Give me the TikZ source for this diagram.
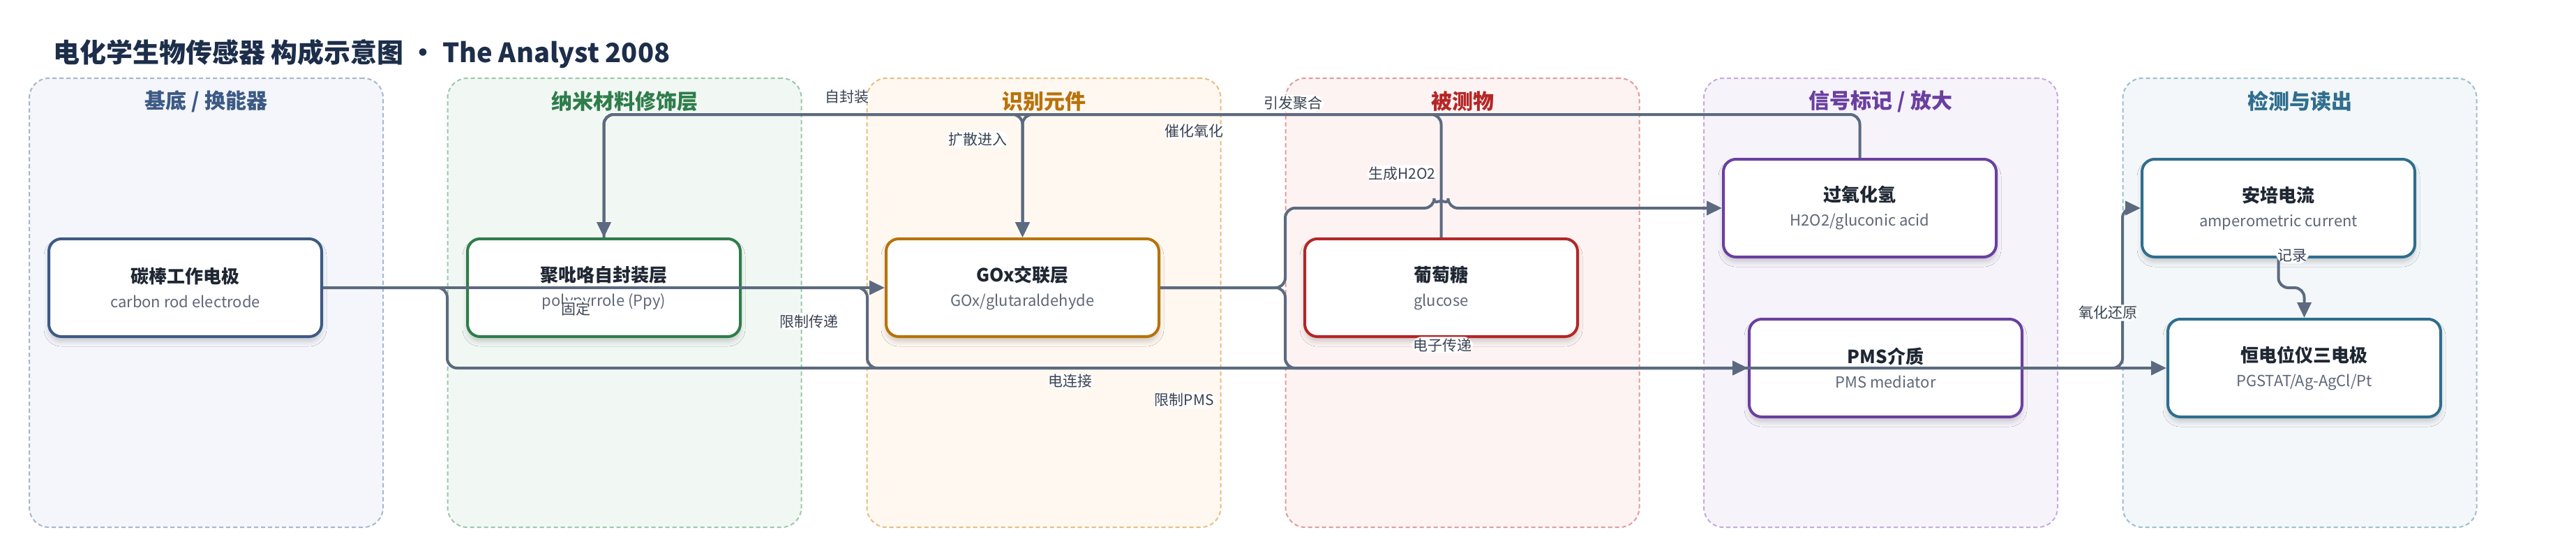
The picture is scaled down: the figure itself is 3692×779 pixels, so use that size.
\documentclass[tikz,border=0pt]{standalone}
\usepackage{fontspec}
\setmainfont{Noto Sans CJK SC}
\usetikzlibrary{positioning, arrows.meta, shadows.blur}

\definecolor{edgeink}{HTML}{5B6A80}
\definecolor{labelink}{HTML}{3A4353}
\definecolor{titleink}{HTML}{1F2733}
\definecolor{subink}{HTML}{5F6878}
\definecolor{headink}{HTML}{1C2E4A}

\definecolor{basefill}{HTML}{F4F6FB}
\definecolor{baseline}{HTML}{A9B6CC}
\definecolor{baseink}{HTML}{3D5A85}
\definecolor{nanofill}{HTML}{F1F8F3}
\definecolor{nanoline}{HTML}{9DC7AB}
\definecolor{nanoink}{HTML}{2E7D4B}
\definecolor{recogfill}{HTML}{FEF8F0}
\definecolor{recogline}{HTML}{E5BF82}
\definecolor{recogink}{HTML}{B8720A}
\definecolor{analytefill}{HTML}{FDF3F3}
\definecolor{analyteline}{HTML}{E49B9B}
\definecolor{analyteink}{HTML}{B52626}
\definecolor{signalfill}{HTML}{F6F3FB}
\definecolor{signalline}{HTML}{C4ABDF}
\definecolor{signalink}{HTML}{6A3FA0}
\definecolor{readfill}{HTML}{F3F7F9}
\definecolor{readline}{HTML}{9DBFCE}
\definecolor{readink}{HTML}{2F6E8E}

\tikzstyle{panel} = [rectangle, rounded corners=28pt, minimum width=507pt, minimum height=643pt, line width=2pt, dash pattern=on 6pt off 4pt]
\tikzstyle{paneltitle} = [font=\fontsize{30pt}{34pt}\selectfont\bfseries]
\tikzstyle{stage} = [rectangle, rounded corners=18pt, minimum width=391pt, minimum height=140pt, fill=white, line width=4pt, align=center, text=subink, font=\fontsize{22pt}{35pt}\selectfont, blur shadow={shadow xshift=0pt, shadow yshift=-7pt, shadow blur radius=7pt, shadow opacity=18}]
\tikzstyle{edgelabel} = [fill=white, inner sep=2pt, text=labelink, font=\fontsize{21pt}{24pt}\selectfont]
\tikzstyle{arrow} = [line width=4pt, draw=edgeink, rounded corners=14pt, -{Triangle[length=22pt, width=20pt]}]

\newcommand{\stagetext}[2]{{\fontsize{26pt}{35pt}\selectfont\bfseries\color{titleink}#1}\\#2}

\begin{document}
\begin{tikzpicture}[x=1pt, y=-1pt, node distance=600pt]

\fill[white] (0,0) rectangle (3692,779);
\useasboundingbox (0,0) rectangle (3692,779);

\node (heading) [anchor=west, inner sep=0pt, text=headink, font=\fontsize{38pt}{44pt}\selectfont\bfseries] at (76,77) {电化学生物传感器 构成示意图 · The Analyst 2008};

%% groups
\node (g-base) [panel, fill=basefill, draw=baseline] at (295.5,433.5) {};
\node (g-nano) [panel, fill=nanofill, draw=nanoline] at (895,433.5) {};
\node (g-recog) [panel, fill=recogfill, draw=recogline] at (1496,433.5) {};
\node (g-analyte) [panel, fill=analytefill, draw=analyteline] at (2096,433.5) {};
\node (g-signal) [panel, fill=signalfill, draw=signalline] at (2695.5,433.5) {};
\node (g-read) [panel, fill=readfill, draw=readline] at (3296,433.5) {};

\node (t-base) [paneltitle, text=baseink] at (295.5,145) {基底 / 换能器};
\node (t-nano) [paneltitle, text=nanoink] at (895,145) {纳米材料修饰层};
\node (t-recog) [paneltitle, text=recogink] at (1496,145) {识别元件};
\node (t-analyte) [paneltitle, text=analyteink] at (2096,145) {被测物};
\node (t-signal) [paneltitle, text=signalink] at (2695.5,145) {信号标记 / 放大};
\node (t-read) [paneltitle, text=readink] at (3296,145) {检测与读出};

%% stages
\node (carbon) [stage, draw=baseink] at (265.5,412) {\stagetext{碳棒工作电极}{carbon rod electrode}};
\node (ppy) [stage, draw=nanoink, right of=carbon] {\stagetext{聚吡咯自封装层}{polypyrrole (Ppy)}};
\node (gox) [stage, draw=recogink, right of=ppy] {\stagetext{GOx交联层}{GOx/glutaraldehyde}};
\node (glucose) [stage, draw=analyteink, right of=gox] {\stagetext{葡萄糖}{glucose}};
\node (h2o2) [stage, draw=signalink, right of=glucose, yshift=114pt] {\stagetext{过氧化氢}{H2O2/gluconic acid}};
\node (pms) [stage, draw=signalink, right of=glucose, xshift=37pt, yshift=-115pt] {\stagetext{PMS介质}{PMS mediator}};
\node (amp) [stage, draw=readink, right of=h2o2] {\stagetext{安培电流}{amperometric current}};
\node (pgstat) [stage, draw=readink, right of=pms] {\stagetext{恒电位仪三电极}{PGSTAT/Ag-AgCl/Pt}};

%% arrows
\draw [arrow] (carbon.east) -- node[edgelabel, pos=0.45, yshift=-30pt] {固定} (gox.west);
\draw [arrow] (carbon.east) -- (641,412) -- (641,527) -- node[edgelabel, pos=0.3625, yshift=-19pt] {电连接} (pgstat.west);
\draw [arrow] (ppy.east) -- (1243,412) -- node[edgelabel, pos=0.42, left=38pt] {限制传递} (1243,527) -- node[edgelabel, pos=0.36, yshift=-46pt] {限制PMS} (pms.west);
\draw [arrow] (gox.east) -- (1842,412) -- (1842,527) -- node[edgelabel, pos=0.34, yshift=33pt] {电子传递} (pms.west);
\draw [arrow] (gox.east) -- (1842,412) -- (1842,298) -- (2055.5,298) arc (180:0:10pt) -- (h2o2.west);
\draw [arrow] (glucose.north) -- node[edgelabel, pos=0.52, left=4pt] {生成H2O2} (2065.5,164) -- node[edgelabel, pos=0.59, yshift=-24pt] {催化氧化} (1465.5,164) -- node[edgelabel, pos=0.2, left=18pt] {扩散进入} (gox.north);
\draw [arrow] (ppy.north) -- (865.5,164) -- node[edgelabel, pos=0.58, yshift=25pt] {自封装} (1465.5,164) -- (gox.north);
\draw [arrow] (h2o2.north) -- (2665.5,164) -- node[edgelabel, pos=0.451, yshift=16pt] {引发聚合} (865.5,164) -- (ppy.north);
\draw [arrow] (pms.east) -- (3042,527) -- node[edgelabel, pos=0.345, xshift=-21pt] {氧化还原} (3042,298) -- (amp.west);
\draw [arrow] (amp.south) node[edgelabel, xshift=20pt, yshift=4pt] {记录} -- (3265.5,412) -- (3302.5,412) -- (pgstat.north);

\end{tikzpicture}
\end{document}
